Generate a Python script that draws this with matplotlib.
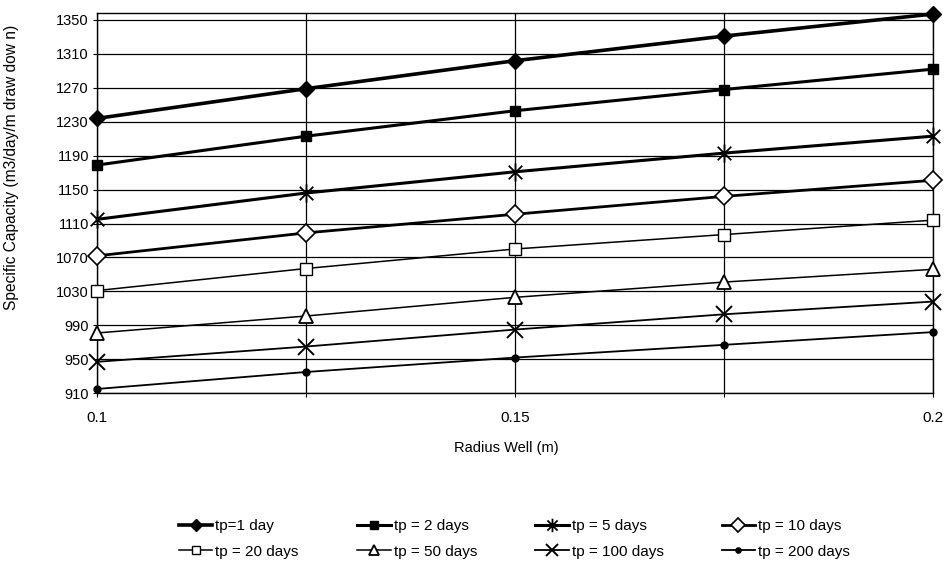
import matplotlib
matplotlib.use("Agg")
import matplotlib.pyplot as plt
from matplotlib.path import Path

plt.rcParams['font.family'] = ['Liberation Sans', 'DejaVu Sans']

radius = [0.1, 0.125, 0.15, 0.175, 0.2]

tp1 = [1234, 1269, 1302, 1331, 1357]
tp2 = [1179, 1213, 1243, 1268, 1292]
tp5 = [1115, 1146, 1171, 1193, 1213]
tp10 = [1072, 1099, 1121, 1142, 1161]
tp20 = [1031, 1057, 1080, 1097, 1114]
tp50 = [981, 1001, 1023, 1041, 1056]
tp100 = [947, 965, 985, 1003, 1018]
tp200 = [915, 935, 952, 967, 982]

labels = ['tp=1 day', 'tp = 2 days', 'tp = 5 days', 'tp = 10 days',
          'tp = 20 days', 'tp = 50 days', 'tp = 100 days', 'tp = 200 days']

y_ticks = list(range(910, 1351, 40))

# excel style asterisk: vertical bar plus an X
star = Path([(0, -1), (0, 1), (-0.75, -0.75), (0.75, 0.75), (-0.75, 0.75), (0.75, -0.75)],
            [Path.MOVETO, Path.LINETO] * 3)

fig = plt.figure(figsize=(9.44, 5.74), dpi=100)
ax = fig.add_axes([0.103, 0.315, 0.885, 0.662])

common = dict(color='black', clip_on=False, zorder=3)
h = {}
h['tp1'], = ax.plot(radius, tp1, lw=2.6, marker='D', ms=8,
                    mfc='black', mec='black', label=labels[0], **common)
h['tp2'], = ax.plot(radius, tp2, lw=2.2, marker='s', ms=7.5,
                    mfc='black', mec='black', label=labels[1], **common)
h['tp5'], = ax.plot(radius, tp5, lw=2.2, marker=star, ms=13,
                    mec='black', mew=1.3, label=labels[2], **common)
h['tp10'], = ax.plot(radius, tp10, lw=2.0, marker='D', ms=9,
                     mfc='white', mec='black', mew=1.2, label=labels[3], **common)
h['tp20'], = ax.plot(radius, tp20, lw=1.1, marker='s', ms=8,
                     mfc='white', mec='black', mew=1.0, label=labels[4], **common)
h['tp50'], = ax.plot(radius, tp50, lw=1.1, marker='^', ms=10,
                     mfc='white', mec='black', mew=1.3, label=labels[5], **common)
h['tp100'], = ax.plot(radius, tp100, lw=1.3, marker='x', ms=11,
                      mec='black', mew=1.4, label=labels[6], **common)
h['tp200'], = ax.plot(radius, tp200, lw=1.3, marker='o', ms=5,
                      mfc='black', mec='black', label=labels[7], **common)

ax.set_xlim(0.1, 0.2)
ax.set_ylim(910, 1358)
ax.set_xticks(radius)
ax.set_xticklabels(['0.1', '', '0.15', '', '0.2'], fontsize=11)
ax.set_yticks(y_ticks)
ax.set_yticklabels([str(v) for v in y_ticks], fontsize=10.5)
ax.tick_params(axis='both', length=3, width=0.8, color='black')
ax.tick_params(axis='x', pad=10)
ax.tick_params(axis='y', pad=3)
ax.grid(True, color='black', lw=0.9)
ax.set_axisbelow(True)
for s in ax.spines.values():
    s.set_linewidth(1.0)
    s.set_color('black')

ax.set_xlabel('Radius Well (m)', fontsize=10.5)
ax.xaxis.set_label_coords(0.49, -0.125)
ax.set_ylabel('Specific Capacity (m3/day/m draw dow n)', fontsize=11.2)
ax.yaxis.set_label_coords(-0.094, 0.595)

order = ['tp1', 'tp20', 'tp2', 'tp50', 'tp5', 'tp100', 'tp10', 'tp200']
fig.legend([h[k] for k in order], [h[k].get_label() for k in order],
           loc='center', bbox_to_anchor=(0.545, 0.061), ncol=4, frameon=False,
           fontsize=11, handlelength=2.2, handletextpad=0.2, columnspacing=3.8,
           labelspacing=0.75, markerscale=0.75)

fig.savefig('out.png', dpi=100)
